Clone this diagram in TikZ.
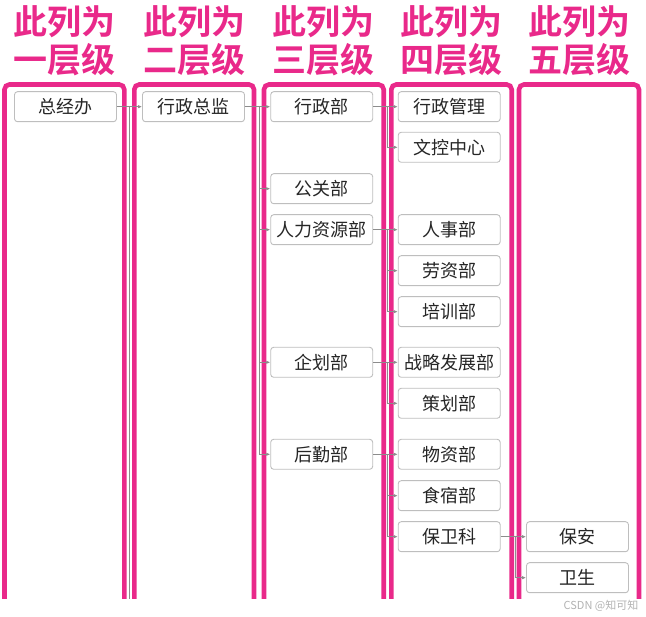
\documentclass[tikz,border=0pt]{standalone}
\usepackage{fontspec}
\usepackage{tikz}
\usetikzlibrary{arrows.meta}
\newfontfamily\cjk{Noto Sans CJK SC}
\newfontfamily\cjkbold{Noto Sans CJK SC Bold}
\definecolor{levelpink}{RGB}{233,41,138}
\definecolor{linkgray}{RGB}{140,140,140}
\definecolor{boxgray}{RGB}{190,190,190}
\tikzstyle{dept}=[draw=boxgray, fill=white, rounded corners=3pt, line width=0.9pt, minimum width=102pt, minimum height=30pt, inner sep=0pt, text=black!85, font=\cjk\fontsize{18}{21}\selectfont]
\tikzstyle{column}=[draw=levelpink, line width=4.6pt, rounded corners=5pt]
\tikzstyle{title}=[text=levelpink, align=center, inner sep=0pt, font=\cjkbold\fontsize{34}{38}\selectfont]
\tikzstyle{link}=[draw=linkgray, line width=0.8pt, -{Latex[length=4pt,width=3.5pt]}]
\tikzstyle{trunk}=[draw=linkgray, line width=0.8pt]

\begin{document}
\begin{tikzpicture}[x=1pt, y=-1pt]
\useasboundingbox (0,0) rectangle (646,617);

% level columns, open at the bottom
\foreach \xa/\xb/\cx/\lvl in {4.5/124.3/64.4/一, 134.3/254/194.2/二, 264/383.7/323.9/三, 391.3/511.7/451.5/四, 519/639/579/五}
{
	\draw[column] (\xa,599) -- (\xa,84.5) -- (\xb,84.5) -- (\xb,599);
	\node[title] at (\cx,41) {此列为\\\lvl 层级};
}

% First we draw the boxes
\foreach \pos/\label/\name in {
	{(65.5,106.7)/zjb/总经办},
	{(193.5,106.7)/xzzj/行政总监},
	{(321.7,106.7)/xzb/行政部},
	{(321.7,188.7)/ggb/公关部},
	{(321.7,229.7)/rlzy/人力资源部},
	{(321.7,362.3)/qhb/企划部},
	{(321.7,454.3)/hqb/后勤部}}
\node[dept] (\label) at \pos {\name};

\foreach \pos/\label/\name in {
	{(449.2,106.7)/xzgl/行政管理},
	{(449.2,147.3)/wkzx/文控中心},
	{(449.2,229.7)/rsb/人事部},
	{(449.2,270.7)/lzb/劳资部},
	{(449.2,311.7)/pxb/培训部},
	{(449.2,362.3)/zlfz/战略发展部},
	{(449.2,403.3)/chb/策划部},
	{(449.2,454.3)/wzb/物资部},
	{(449.2,495.7)/ssb/食宿部},
	{(449.2,536.7)/bwk/保卫科},
	{(577.5,536.7)/ba/保安},
	{(577.5,577.7)/ws/卫生}}
\node[dept] (\label) at \pos {\name};

% Connect boxes
\coordinate (j1) at (129.5,106.7);
\coordinate (cut1) at (129.5,599);
\draw[trunk] (j1) -- (cut1);

\foreach \source/ \dest in {
	zjb/xzzj,
	xzzj/xzb,
	xzzj/ggb,
	xzzj/rlzy,
	xzzj/qhb,
	xzzj/hqb,
	xzb/xzgl,
	xzb/wkzx,
	rlzy/rsb,
	rlzy/lzb,
	rlzy/pxb,
	qhb/zlfz,
	qhb/chb,
	hqb/wzb,
	hqb/ssb,
	hqb/bwk,
	bwk/ba,
	bwk/ws}
\path[link] (\source.east) -- ++(14.5,0) |- (\dest.west);

\node[text=black!30, font=\cjk\fontsize{11}{13}\selectfont, inner sep=0pt] (mark) at (601,606) {CSDN @知可知};

\end{tikzpicture}
\end{document}
